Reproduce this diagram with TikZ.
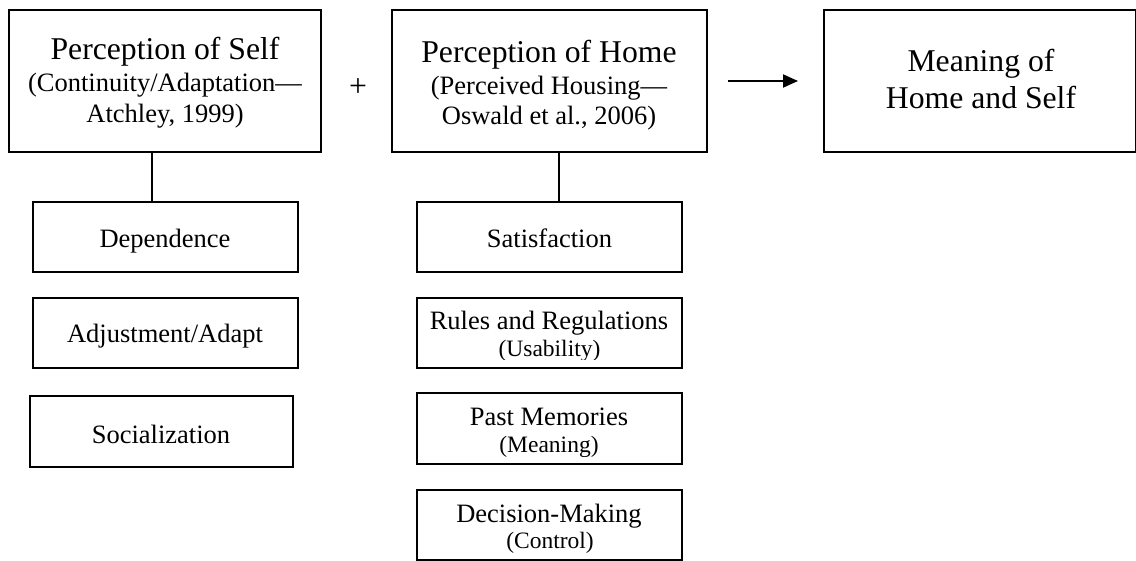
\documentclass[tikz,border=0pt]{standalone}
\usepackage{fontspec}
\setmainfont{Liberation Serif}
\usetikzlibrary{arrows.meta}
\tikzset{
  bigbox/.style={draw=black, line width=2pt, rectangle, inner sep=0pt, minimum width=312pt, minimum height=142pt},
  smallbox/.style={draw=black, line width=2pt, rectangle, inner sep=0pt, minimum width=265pt, minimum height=70pt},
  ttl/.style={anchor=base, inner sep=0pt, font=\fontsize{31.7}{36}\selectfont},
  sub/.style={anchor=base, inner sep=0pt, font=\fontsize{26.5}{30}\selectfont},
  par/.style={anchor=base, inner sep=0pt, font=\fontsize{23.5}{27}\selectfont},
  conn/.style={line width=2pt},
  arr/.style={line width=2pt, -{Triangle[length=15pt,width=13pt]}}
}
\begin{document}
\begin{tikzpicture}[x=1pt,y=-1pt]
\useasboundingbox (0,0) rectangle (1136,561);
% top boxes
\node[bigbox] (self) at (165,81) {};
\node[bigbox, minimum width=315pt] (home) at (549.5,81) {};
\node[bigbox] (mean) at (980,81) {};
\node[ttl] (selfa) at (165,60) {Perception of Self};
\node[sub] (selfb) at (165,92) {(Continuity/Adaptation—};
\node[sub] (selfc) at (165,123) {Atchley, 1999)};
\node[ttl] (homea) at (549,63) {Perception of Home};
\node[sub] (homeb) at (549,95) {(Perceived Housing—};
\node[sub] (homec) at (549,125) {Oswald et al., 2006)};
\node[ttl] (meana) at (981,72) {Meaning of};
\node[ttl] (meanb) at (981,108.5) {Home and Self};
\node[inner sep=0pt, font=\fontsize{31.7}{36}\selectfont] (plus) at (358,88) {+};
\draw[arr] ([xshift=20pt]home.east) -- ([xshift=-25pt]mean.west);
% left column
\node[smallbox] (dep) at (165.5,237) {};
\node[smallbox] (adj) at (165.5,333) {};
\node[smallbox, minimum width=263pt, minimum height=71pt] (soc) at (161.5,431.5) {};
\node[sub] (depa) at (165,248) {Dependence};
\node[sub] (adja) at (165,343) {Adjustment/Adapt};
\node[sub] (soca) at (161,443) {Socialization};
\draw[conn] ([xshift=-13pt]self.south) -- ([xshift=-13.5pt]dep.north);
% right column
\node[smallbox] (sat) at (549.5,237) {};
\node[smallbox] (rul) at (549.5,333) {};
\node[smallbox, minimum height=71pt] (mem) at (549.5,428.5) {};
\node[smallbox] (dec) at (549.5,525) {};
\node[sub] (sata) at (549.5,247.5) {Satisfaction};
\node[sub] (rula) at (549,330) {Rules and Regulations};
\node[sub] (mema) at (549,425) {Past Memories};
\node[sub] (deca) at (549,522) {Decision-Making};
\begin{scope}
\clip (rul.north west) rectangle ([yshift=9pt]rul.south east);
\node[par] (rulb) at (549.5,357) {(Usability)};
\end{scope}
\begin{scope}
\clip (mem.north west) rectangle ([yshift=9pt]mem.south east);
\node[par] (memb) at (549,453) {(Meaning)};
\end{scope}
\begin{scope}
\clip (dec.north west) rectangle ([yshift=9pt]dec.south east);
\node[par] (decb) at (550,548) {(Control)};
\end{scope}
\draw[conn] ([xshift=9.5pt]home.south) -- ([xshift=9.5pt]sat.north);
\end{tikzpicture}
\end{document}
